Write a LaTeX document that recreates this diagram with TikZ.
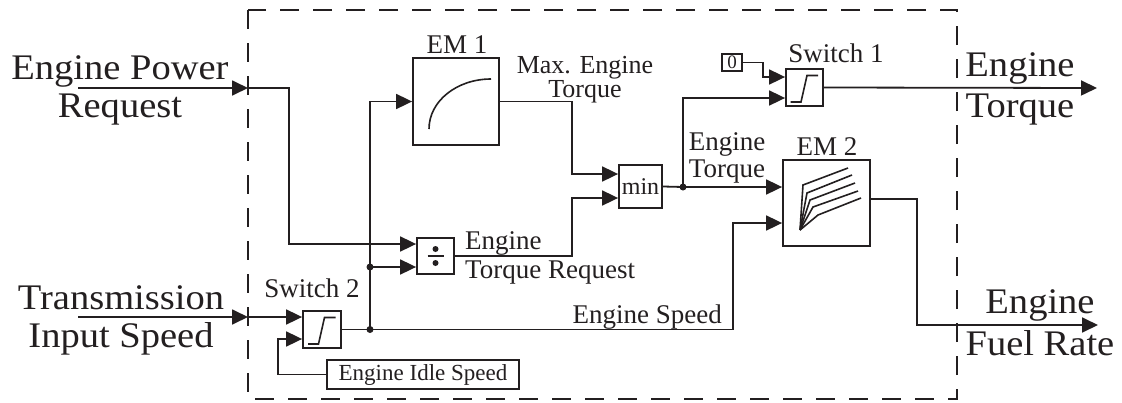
\documentclass[tikz,border=0pt]{standalone}
\usepackage{fontspec}
\setmainfont{Liberation Serif}
\newfontfamily\bigserif[FakeStretch=1.07]{Liberation Serif}
\usetikzlibrary{arrows.meta,calc}
\definecolor{ink}{RGB}{35,31,32}
\newcommand\stkc[3]{\vtop{\lineskiplimit=-100pt\baselineskip=#1\halign{\hfil##\hfil\cr#2\cr#3\cr}}}
\newcommand\stkl[3]{\vtop{\lineskiplimit=-100pt\baselineskip=#1\halign{##\hfil\cr#2\cr#3\cr}}}
\begin{document}
\begin{tikzpicture}[x=1pt,y=-1pt,color=ink,
  wire/.style={line width=1.8pt},
  sig/.style={wire,-{Triangle[length=16pt,width=15pt]}},
  blk/.style={draw,line width=1.8pt,fill=white,inner sep=0pt},
  lbl/.style={inner sep=0pt,font=\fontsize{27}{28}\selectfont},
  biglbl/.style={inner sep=0pt,font=\bigserif\fontsize{36}{38}\selectfont},
  icon/.style={line width=1.6pt},
  dotj/.style={circle,fill=ink,inner sep=0pt,minimum size=7pt},
]
\useasboundingbox (0,0) rectangle (1122,402);

% dashed subsystem border
\draw[line width=1.6pt,dash pattern=on 19pt off 14pt] (248,10) rectangle (957,399);

% blocks
\node[blk,minimum width=86pt,minimum height=87pt] (EM1) at (456,101.5) {};
\node[blk,minimum width=87pt,minimum height=86pt] (EM2) at (826.5,203) {};
\node[blk,minimum width=43pt,minimum height=43pt,font=\fontsize{24}{25}\selectfont] (min) at (640.5,186.5) {min};
\node[blk,minimum width=37pt,minimum height=36pt] (div) at (435.5,256) {};
\node[blk,minimum width=37pt,minimum height=37pt] (sw1) at (804.5,87.5) {};
\node[blk,minimum width=38pt,minimum height=37pt] (sw2) at (322,329.5) {};
\node[blk,minimum width=192pt,minimum height=29pt,font=\fontsize{23}{24}\selectfont] (idle) at (423,374.5) {Engine Idle Speed};
\node[blk,minimum width=20pt,minimum height=17pt,font=\fontsize{19}{20}\selectfont] (c0) at (732,62.5) {0};

% icons
\draw[icon] (429,129) .. controls (429,101) and (457,79) .. (491,79);
\draw[icon] (800,230) -- (803,185) -- (848,168);
\draw[icon] (800,230) -- (807,193) -- (852,175);
\draw[icon] (800,230) -- (810,200) -- (855,183);
\draw[icon] (800,230) -- (813,207) -- (858,191);
\draw[icon] (800,230) -- (818,215) -- (861,198);
\foreach \s in {sw1,sw2}{
  \draw[icon,shift={(\s.center)}] (-14,14.5) -- (-3.5,14.5) -- (2.5,-12) -- (13.5,-12);
}
\fill ($(div.center)+(0,-7)$) circle (3pt);
\fill ($(div.center)+(0,7)$) circle (3pt);
\draw[icon] ($(div.center)+(-8,0)$) -- ($(div.center)+(8,0)$);

% ports
\coordinate (min-i1) at ($(min.west)+(0,-12.5)$);
\coordinate (min-i2) at ($(min.west)+(0,11.5)$);
\coordinate (div-i1) at ($(div.west)+(0,-12)$);
\coordinate (div-i2) at ($(div.west)+(0,11)$);
\coordinate (sw1-i1) at ($(sw1.west)+(0,-10.5)$);
\coordinate (sw1-i2) at ($(sw1.west)+(0,10.5)$);
\coordinate (sw2-i1) at ($(sw2.west)+(0,-12.5)$);
\coordinate (sw2-i2) at ($(sw2.west)+(0,9.5)$);
\coordinate (EM2-i1) at ($(EM2.west)+(0,-16)$);
\coordinate (EM2-i2) at ($(EM2.west)+(0,20)$);
\coordinate (EM2-o) at ($(EM2.east)+(0,-4)$);

% external ports
\coordinate (eprS) at (78,88);
\coordinate (eprB) at (248,88);
\coordinate (tisS) at (78,317);
\coordinate (tisB) at (248,317);
\coordinate (etE) at (1097,88);
\coordinate (efrE) at (1098,325);

% junctions
\node[dotj] (j1) at (370,329.5) {};
\node[dotj] (j2) at (370,267) {};
\node[dotj] (j3) at (683,187) {};

% connectors
\draw[sig] (eprS) -- (eprB);
\draw[sig] (eprB) -- (289,88) |- (div-i1);
\draw[sig] (tisS) -- (tisB);
\draw[sig] (tisB) -- (sw2-i1);
\draw[sig] (idle.west) -- (278,374.5) |- (sw2-i2);
\draw[wire] (sw2.east) -- (j1.center);
\draw[sig] (j1.center) -- (733,329.5) |- (EM2-i2);
\draw[sig] (j1.center) |- (EM1.west);
\draw[sig] (j2.center) -- (div-i2);
\draw[sig] (EM1.east) -- (572,101.5) |- (min-i1);
\draw[sig] (div.east) -- (572,256) |- (min-i2);
\draw[wire] (min.east) -- (j3.center);
\draw[sig] (j3.center) -- (EM2-i1);
\draw[sig] (j3.center) |- (sw1-i2);
\draw[sig] (c0.east) -- (763,62.5) |- (sw1-i1);
\draw[sig] (sw1.east) -- (etE);
\draw[sig] (EM2-o) -- (917,199) |- (efrE);

% external labels
\node[biglbl,anchor=base] (lepr) at (120,79) {\stkc{38pt}{Engine Power}{Request}};
\node[biglbl,anchor=base] (ltis) at (121,309) {\stkc{38pt}{Transmission}{Input Speed}};
\node[biglbl,anchor=base] (let) at (1020,76) {\stkc{41pt}{Engine}{Torque}};
\node[biglbl,anchor=base] (lefr) at (1040,313) {\stkc{42pt}{Engine}{Fuel Rate}};

% internal labels
\node[lbl,anchor=base] (lem1) at (457,53) {EM 1};
\node[lbl,anchor=base,font=\fontsize{26}{26}\selectfont] (lmax) at (585,73) {\stkc{24pt}{Max. Engine}{Torque}};
\node[lbl,anchor=base] (lsw1) at (836,62) {Switch 1};
\node[lbl,anchor=base] (ltq) at (727,150) {\stkc{27pt}{Engine}{Torque}};
\node[lbl,anchor=base] (lem2) at (827,155) {EM 2};
\node[lbl,anchor=base west] (ltr) at (465,249) {\stkl{29pt}{Engine}{Torque Request}};
\node[lbl,anchor=base] (lsw2) at (312,297) {Switch 2};
\node[lbl,anchor=base east] (lspd) at (722,323) {Engine Speed};
\end{tikzpicture}
\end{document}
